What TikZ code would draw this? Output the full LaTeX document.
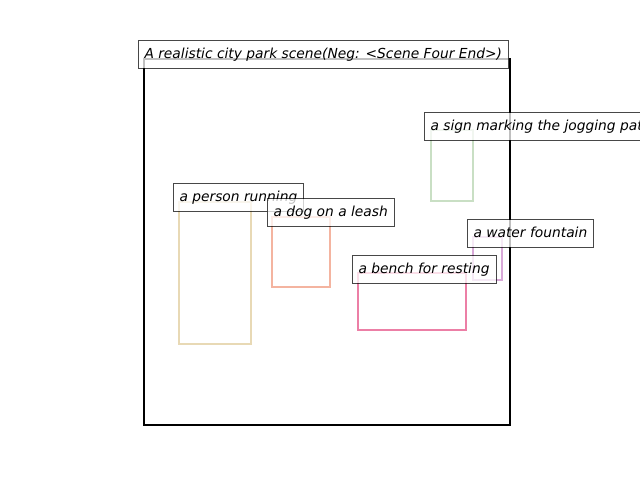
\documentclass[tikz,border=0pt]{standalone}
\usepackage{fontspec}
\setmainfont{DejaVu Sans}
\begin{document}
\begin{tikzpicture}[x=1pt,y=-1pt,
  frame/.style={draw=black,line width=2.2pt},
  obj/.style={line width=2.2pt},
  lbl/.style={draw=black,draw opacity=0.72,fill=white,fill opacity=0.75,text opacity=1,
    line width=1pt,anchor=north west,inner xsep=6.5pt,inner ysep=0pt,
    minimum height=27.5pt,font=\fontsize{13.8}{16}\selectfont\itshape,
    text height=10.5pt,text depth=3pt}]
\clip (0,0) rectangle (640,480);
\definecolor{tanc}{HTML}{E8D9B5}
\definecolor{salc}{HTML}{F4B4A0}
\definecolor{pinkc}{HTML}{EC7FA6}
\definecolor{lilc}{HTML}{D8A8D8}
\definecolor{grnc}{HTML}{C9DFC4}
\draw[frame] (144,59) rectangle (510,425);
\draw[obj,tanc] (179,202) rectangle (251,344);
\draw[obj,salc] (272,217) rectangle (330,287);
\draw[obj,pinkc] (358,273) rectangle (466,330);
\draw[obj,lilc] (473,237) rectangle (502,280);
\draw[obj,grnc] (431,130) rectangle (473,201);
\node[lbl] (title) at (137.5,40) {A realistic city park scene(Neg: <Scene Four End>)};
\node[lbl] (sign) at (423.5,112) {a sign marking the jogging path};
\node[lbl] (person) at (172.5,183) {a person running};
\node[lbl] (dog) at (266.5,198) {a dog on a leash};
\node[lbl] (fountain) at (466.5,219) {a water fountain};
\node[lbl] (bench) at (351.5,255) {a bench for resting};
\end{tikzpicture}
\end{document}
